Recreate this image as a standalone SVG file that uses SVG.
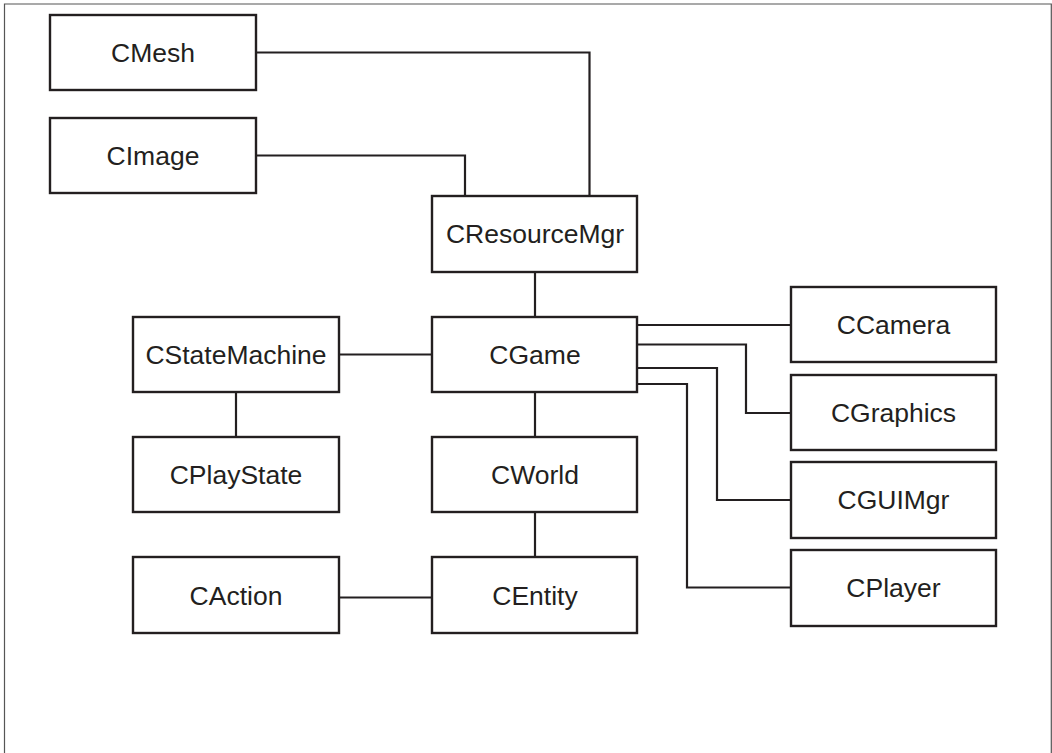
<svg xmlns="http://www.w3.org/2000/svg" width="1052" height="753" viewBox="0 0 1052 753">
<style>
.box{fill:#fff;stroke:#231f20;stroke-width:2.4}
.lbl{font-family:"Liberation Sans",Arial,sans-serif;font-size:26.5px;fill:#231f20;text-anchor:middle}
.con{fill:none;stroke:#231f20;stroke-width:2.2}
</style>
<rect width="1052" height="753" fill="#fff"/>
<path d="M4.5,753 V4 H1051.3 V753" fill="none" stroke="#555" stroke-width="1.2"/>
<g id="connectors" class="con">
<path d="M256,52.5 H589.5 V196"/>
<path d="M256,155.5 H465 V196"/>
<path d="M535,272 V317"/>
<path d="M339,354.5 H432"/>
<path d="M236,392 V437"/>
<path d="M535,392 V437"/>
<path d="M535,512 V557"/>
<path d="M339,597.5 H432"/>
<path d="M637,325 H791"/>
<path d="M637,344.5 H746 V413 H791"/>
<path d="M637,368 H717 V500 H791"/>
<path d="M637,384 H687 V587.5 H791"/>
</g>
<g id="CMesh"><rect class="box" x="50" y="15" width="206" height="75"/><text class="lbl" x="153" y="62">CMesh</text></g>
<g id="CImage"><rect class="box" x="50" y="118" width="206" height="75"/><text class="lbl" x="153" y="165">CImage</text></g>
<g id="CResourceMgr"><rect class="box" x="432" y="196" width="205" height="76"/><text class="lbl" x="535" y="243">CResourceMgr</text></g>
<g id="CStateMachine"><rect class="box" x="133" y="317" width="206" height="75"/><text class="lbl" x="236" y="364">CStateMachine</text></g>
<g id="CGame"><rect class="box" x="432" y="317" width="205" height="75"/><text class="lbl" x="535" y="364">CGame</text></g>
<g id="CPlayState"><rect class="box" x="133" y="437" width="206" height="75"/><text class="lbl" x="236" y="484">CPlayState</text></g>
<g id="CWorld"><rect class="box" x="432" y="437" width="205" height="75"/><text class="lbl" x="535" y="484">CWorld</text></g>
<g id="CAction"><rect class="box" x="133" y="557" width="206" height="76"/><text class="lbl" x="236" y="605">CAction</text></g>
<g id="CEntity"><rect class="box" x="432" y="557" width="205" height="76"/><text class="lbl" x="535" y="605">CEntity</text></g>
<g id="CCamera"><rect class="box" x="791" y="287" width="205" height="75"/><text class="lbl" x="893.5" y="334">CCamera</text></g>
<g id="CGraphics"><rect class="box" x="791" y="375" width="205" height="75"/><text class="lbl" x="893.5" y="422">CGraphics</text></g>
<g id="CGUIMgr"><rect class="box" x="791" y="462" width="205" height="76"/><text class="lbl" x="893.5" y="509">CGUIMgr</text></g>
<g id="CPlayer"><rect class="box" x="791" y="550" width="205" height="76"/><text class="lbl" x="893.5" y="597">CPlayer</text></g>
</svg>
